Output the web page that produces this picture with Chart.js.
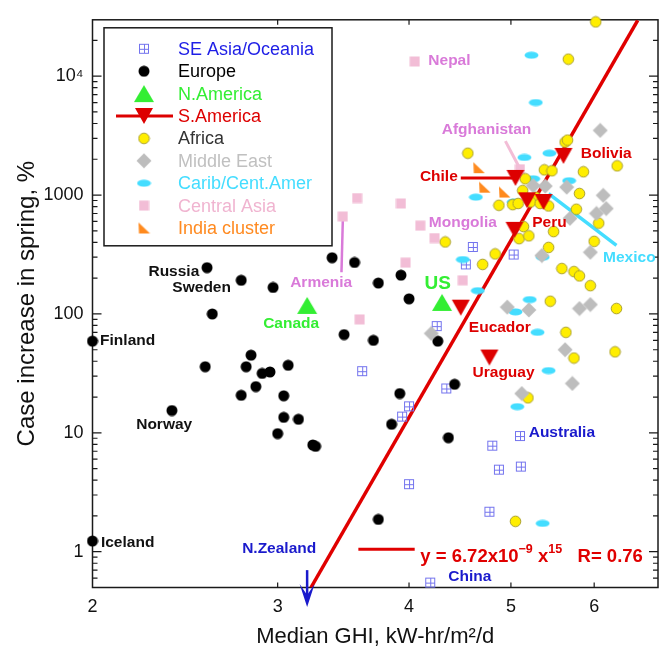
<!DOCTYPE html>
<html>
<head>
<meta charset="utf-8">
<script src="https://cdn.jsdelivr.net/npm/chart.js@4.4.1/dist/chart.umd.min.js"></script>
<style>
  html, body { margin: 0; padding: 0; background: #fff; }
  canvas { display: block; }
</style>
</head>
<body>
<canvas id="ghiChart" width="665" height="651"></canvas>
<script>
const FONT = "'Liberation Sans', Arial, Helvetica, sans-serif";

// axis ticks
const xTicks = [2, 3, 4, 5, 6];
const yTicks = [1, 10, 100, 1000, 10000];

// data: median GHI (kW-hr/m2/d) vs case increase in spring (%)
const seAsiaGhi = [4.60, 5.03, 4.53, 4.25, 4.00, 3.94, 4.34, 5.10, 4.80, 4.87, 5.11, 4.00, 4.77, 4.19, 3.61];
const seAsiaCases = [366, 316, 261, 79, 16.7, 13.7, 23.6, 9.4, 7.8, 4.9, 5.2, 3.7, 2.17, 0.55, 33];

const europeGhi = [2.00, 2.00, 2.38, 2.57, 2.60, 2.77, 2.97, 2.56, 2.80, 2.83, 3.07, 2.90, 2.95, 2.86, 2.77, 3.04, 3.04,
    3.14, 3.00, 3.24, 3.26, 3.74, 3.38, 3.55, 3.93, 4.00, 4.26, 4.42, 3.92, 3.85, 4.36, 3.47, 3.70, 3.74];
const europeCases = [59, 1.23, 15.4, 245, 100, 192, 167, 36, 36, 45, 37, 31.6, 32.5, 24.5, 20.7, 20.5, 13.5,
    13, 9.85, 7.9, 7.7, 1.87, 297, 271, 212, 134, 59, 25.6, 21.4, 11.8, 9.1, 67, 60, 182];

const nAmericaGhi = [3.20, 4.30];
const nAmericaCases = [118, 125];

const sAmericaGhi = [5.05, 5.61, 5.04, 5.18, 5.37, 4.48, 4.77];
const sAmericaCases = [1394, 2134, 510, 904, 875, 113, 43];

const africaGhi = [6.02, 5.67, 5.63, 5.66, 4.55, 6.31, 5.38, 5.47, 5.86, 5.16, 5.13, 5.81, 5.28, 4.87, 5.02, 5.08, 5.22,
    5.33, 5.43, 5.77, 5.14, 5.49, 4.33, 5.09, 5.20, 6.06, 6.00, 5.43, 4.83, 4.70, 5.59, 5.74, 5.81, 5.95, 5.45, 6.30,
    5.64, 6.28, 5.74, 5.19, 5.05];
const africaCases = [28600, 13900, 2790, 2900, 2250, 1760, 1630, 1600, 1570, 1370, 1090, 1030, 960, 820, 830, 850, 875,
    850, 810, 760, 543, 493, 403, 430, 454, 580, 408, 363, 320, 261, 241, 227, 209, 173, 128, 111,
    70, 48, 42.6, 19.7, 1.8];

const midEastGhi = [6.08, 5.25, 5.39, 5.65, 6.12, 6.16, 6.03, 5.69, 5.95, 5.35, 4.96, 5.20, 5.81, 5.95, 4.20, 5.63, 5.72, 5.12];
const midEastCases = [3500, 1200, 1190, 1165, 995, 770, 700, 637, 330, 310, 114, 108, 111, 120, 68.6, 50, 26, 21.4];

const caribGhi = [5.23, 5.28, 5.15, 5.44, 5.25, 5.68, 4.63, 5.03, 4.50, 5.36, 4.65, 5.21, 5.05, 5.30, 5.43, 5.07, 5.36];
const caribCases = [15000, 6000, 2070, 2250, 1370, 1320, 960, 875, 287, 300, 157, 132, 104, 70, 33.4, 16.6, 1.73];

const centralAsiaGhi = [4.05, 5.10, 3.57, 3.93, 3.46, 4.10, 4.23, 3.97, 4.50, 3.59];
const centralAsiaCases = [13300, 1650, 944, 850, 660, 553, 435, 270, 192, 90];

const indiaGhi = [4.66, 4.72, 4.93];
const indiaCases = [1700, 1165, 1060];

// fitted power law, end points as drawn
const fitGhi = [3.227, 6.60];
const fitCases = [0.5, 29400];

// country labels
const labelNames = ['Nepal', 'Afghanistan', 'Chile', 'Bolivia', 'Peru', 'Mongolia', 'Mexico', 'Armenia', 'US', 'Canada',
    'Eucador', 'Uraguay', 'Australia', 'Russia', 'Sweden', 'Finland', 'Norway', 'Iceland', 'N.Zealand', 'China'];
const labelGhi = [4.37, 4.74, 4.27, 6.16, 5.44, 4.50, 6.48, 3.30, 4.26, 3.09, 4.88, 4.92, 5.59, 2.39, 2.54, 2.16, 2.34, 2.16, 3.01, 4.57];
const labelCases = [13600, 3573, 1429, 2218, 582, 582, 299, 184, 178, 83.1, 76.9, 32.0, 9.98, 227, 167, 59.7, 11.6, 1.18, 1.06, 0.615];
const labelGroup = ['cas', 'cas', 'sam', 'sam', 'sam', 'cas', 'car', 'cas', 'nam', 'nam',
    'sam', 'sam', 'sea', 'eur', 'eur', 'eur', 'eur', 'eur', 'sea', 'sea'];

// pointer lines from labels to points
const chileLine = [[4.48, 1394], [5.02, 1394]];
const afghanLine = [[4.94, 2840], [5.09, 1720]];
const mexicoLine = [[5.43, 1030], [6.30, 378]];
const armeniaLine = [[3.46, 605], [3.45, 224]];
const nZealandGhi = 3.20;

const labelColors = {
    cas: '#d97ad9', sam: '#dd0000', car: '#44ddff', nam: '#33ee33', sea: '#1a1acc', eur: '#111111'
};

const makeMarker = (w, h, draw) => {
    const c = document.createElement('canvas');
    c.width = w;
    c.height = h;
    draw(c.getContext('2d'), w, h);
    return c;
};

const markers = {
    seAsia: makeMarker(12, 12, g => {
        g.strokeStyle = '#7474ee';
        g.lineWidth = 1;
        g.strokeRect(1.5, 1.5, 9, 9);
        g.beginPath();
        g.moveTo(6.5, 1.5); g.lineTo(6.5, 10.5);
        g.moveTo(1.5, 6.5); g.lineTo(10.5, 6.5);
        g.stroke();
    }),
    europe: makeMarker(12, 12, g => {
        g.fillStyle = '#000';
        g.beginPath(); g.arc(6, 6, 5.5, 0, Math.PI * 2); g.fill();
    }),
    nAmerica: makeMarker(22, 19, g => {
        g.fillStyle = '#33ee33';
        g.beginPath(); g.moveTo(11, 1); g.lineTo(21, 18); g.lineTo(1, 18); g.closePath(); g.fill();
    }),
    sAmerica: makeMarker(20, 18, g => {
        g.fillStyle = '#dd0000';
        g.beginPath(); g.moveTo(1, 1); g.lineTo(19, 1); g.lineTo(10, 17); g.closePath(); g.fill();
    }),
    africa: makeMarker(13, 13, g => {
        g.fillStyle = '#ffee00';
        g.strokeStyle = '#a89e30';
        g.lineWidth = 1;
        g.beginPath(); g.arc(6.5, 6.5, 5.3, 0, Math.PI * 2); g.fill(); g.stroke();
    }),
    midEast: makeMarker(16, 16, g => {
        g.fillStyle = '#bdbdbd';
        g.beginPath(); g.moveTo(8, 0.5); g.lineTo(15.5, 8); g.lineTo(8, 15.5); g.lineTo(0.5, 8); g.closePath(); g.fill();
    }),
    carib: makeMarker(15, 8, g => {
        g.fillStyle = '#44ddff';
        g.beginPath(); g.ellipse(7.5, 4, 7, 3.5, 0, 0, Math.PI * 2); g.fill();
    }),
    centralAsia: makeMarker(11, 11, g => {
        g.fillStyle = '#f2bdd6';
        g.fillRect(0.5, 0.5, 10, 10);
    }),
    india: makeMarker(13, 13, g => {
        g.fillStyle = '#ff8a1e';
        g.beginPath(); g.moveTo(1, 1); g.lineTo(12.5, 12); g.lineTo(1.5, 12); g.closePath(); g.fill();
    })
};

const toPoints = (xs, ys) => xs.map((x, i) => ({ x: x, y: ys[i] }));

const groups = [
    { name: 'SE Asia/Oceania', color: '#1e1ee6', xs: seAsiaGhi, ys: seAsiaCases, marker: markers.seAsia, order: 9 },
    { name: 'Europe', color: '#000000', xs: europeGhi, ys: europeCases, marker: markers.europe, order: 8 },
    { name: 'N.America', color: '#33ee33', xs: nAmericaGhi, ys: nAmericaCases, marker: markers.nAmerica, order: 2 },
    { name: 'S.America', color: '#dd0000', xs: sAmericaGhi, ys: sAmericaCases, marker: markers.sAmerica, order: 1 },
    { name: 'Africa', color: '#333333', xs: africaGhi, ys: africaCases, marker: markers.africa, order: 4 },
    { name: 'Middle East', color: '#c0c0c0', xs: midEastGhi, ys: midEastCases, marker: markers.midEast, order: 3 },
    { name: 'Carib/Cent.Amer', color: '#44ddff', xs: caribGhi, ys: caribCases, marker: markers.carib, order: 5 },
    { name: 'Central Asia', color: '#f0b4d0', xs: centralAsiaGhi, ys: centralAsiaCases, marker: markers.centralAsia, order: 7 },
    { name: 'India cluster', color: '#ff8a20', xs: indiaGhi, ys: indiaCases, marker: markers.india, order: 6 }
];

const datasets = groups.map(g => ({
    label: g.name,
    data: toPoints(g.xs, g.ys),
    pointStyle: g.marker,
    pointRadius: 6,
    pointHoverRadius: 6,
    clip: false,
    order: g.order
}));

datasets.push({
    label: 'fit',
    data: toPoints(fitGhi, fitCases),
    showLine: true,
    borderColor: '#e00000',
    borderWidth: 3.5,
    pointRadius: 0,
    order: 20
});

// frame with inward ticks on all four sides, plus pointer lines
const framePlugin = {
    id: 'frame',
    beforeDatasetsDraw(chart) {
        const { ctx, chartArea: a, scales: { x, y } } = chart;
        ctx.save();
        ctx.strokeStyle = '#1a1a1a';
        ctx.lineWidth = 1.5;
        ctx.strokeRect(a.left, a.top, a.right - a.left, a.bottom - a.top);

        ctx.lineWidth = 1.2;
        ctx.beginPath();
        xTicks.slice(1).forEach(v => {
            const px = x.getPixelForValue(v);
            ctx.moveTo(px, a.bottom); ctx.lineTo(px, a.bottom - 5);
            ctx.moveTo(px, a.top); ctx.lineTo(px, a.top + 5);
        });
        for (let d = 0.1; d <= 10000; d *= 10) {
            for (let m = 1; m <= 9; m++) {
                const v = d * m;
                if (v < y.min || v > y.max) continue;
                const py = y.getPixelForValue(v);
                const len = m === 1 ? 9 : 5;
                ctx.moveTo(a.left, py); ctx.lineTo(a.left + len, py);
                ctx.moveTo(a.right, py); ctx.lineTo(a.right - len, py);
            }
        }
        ctx.stroke();

        const lines = [
            { path: chileLine, color: '#dd0000', width: 3 },
            { path: afghanLine, color: '#f2bdd6', width: 3 },
            { path: mexicoLine, color: '#44ddff', width: 3.5 },
            { path: armeniaLine, color: '#d97ad9', width: 2.5 }
        ];
        lines.forEach(l => {
            ctx.strokeStyle = l.color;
            ctx.lineWidth = l.width;
            ctx.beginPath();
            l.path.forEach((p, i) => {
                const px = x.getPixelForValue(p[0]);
                const py = y.getPixelForValue(p[1]);
                if (i) ctx.lineTo(px, py); else ctx.moveTo(px, py);
            });
            ctx.stroke();
        });
        ctx.restore();
    }
};

// country labels and the fit equation
const labelPlugin = {
    id: 'labels',
    afterDatasetsDraw(chart) {
        const { ctx, scales: { x, y } } = chart;
        ctx.save();
        ctx.textAlign = 'center';
        ctx.textBaseline = 'middle';
        labelNames.forEach((name, i) => {
            ctx.font = (name === 'US' ? 'bold 19px ' : 'bold 15.5px ') + FONT;
            ctx.fillStyle = labelColors[labelGroup[i]];
            ctx.fillText(name, x.getPixelForValue(labelGhi[i]), y.getPixelForValue(labelCases[i]));
        });

        // equation
        const ex = x.getPixelForValue(4.10);
        const ey = y.getPixelForValue(0.935);
        ctx.strokeStyle = '#e00000';
        ctx.lineWidth = 3;
        ctx.beginPath();
        ctx.moveTo(x.getPixelForValue(3.58), y.getPixelForValue(1.05));
        ctx.lineTo(x.getPixelForValue(4.05), y.getPixelForValue(1.05));
        ctx.stroke();

        ctx.fillStyle = '#e00000';
        ctx.textAlign = 'left';
        ctx.textBaseline = 'alphabetic';
        const big = 'bold 18.5px ' + FONT;
        const small = 'bold 12.5px ' + FONT;
        const base = ey + 7;
        let cx = ex;
        const put = (t, f, dy) => {
            ctx.font = f;
            ctx.fillText(t, cx, base + dy);
            cx += ctx.measureText(t).width;
        };
        put('y = 6.72x10', big, 0);
        put('\u22129', small, -9);
        put(' x', big, 0);
        put('15', small, -9);
        put('   R= 0.76', big, 0);
        ctx.restore();
    }
};

// legend box and the N.Zealand arrow
const legendPlugin = {
    id: 'boxLegend',
    afterDraw(chart) {
        const { ctx, chartArea: a, scales: { x, y } } = chart;
        ctx.save();
        const bx = a.left + 11.5, by = a.top + 8, bw = 228, bh = 218;
        ctx.fillStyle = '#fff';
        ctx.fillRect(bx, by, bw, bh);
        ctx.strokeStyle = '#1a1a1a';
        ctx.lineWidth = 1.5;
        ctx.strokeRect(bx, by, bw, bh);

        ctx.font = '18px ' + FONT;
        ctx.textBaseline = 'middle';
        ctx.textAlign = 'left';
        groups.forEach((g, i) => {
            const ry = by + 21 + i * 22.4;
            const mx = bx + 40;
            if (g.name === 'S.America') {
                ctx.strokeStyle = '#dd0000';
                ctx.lineWidth = 3;
                ctx.beginPath();
                ctx.moveTo(bx + 12, ry); ctx.lineTo(bx + 69, ry);
                ctx.stroke();
            }
            const m = g.marker;
            ctx.drawImage(m, mx - m.width / 2, ry - m.height / 2);
            ctx.fillStyle = g.color;
            ctx.fillText(g.name, bx + 74, ry + 1);
        });

        // N.Zealand arrow, pointing below the axis
        const px = x.getPixelForValue(nZealandGhi);
        const top = y.getPixelForValue(0.70);
        const tip = a.bottom + 19.5;
        ctx.strokeStyle = '#1a1acc';
        ctx.fillStyle = '#1a1acc';
        ctx.lineWidth = 2.5;
        ctx.beginPath();
        ctx.moveTo(px, top); ctx.lineTo(px, tip - 6);
        ctx.stroke();
        ctx.beginPath();
        ctx.moveTo(px, tip);
        ctx.lineTo(px - 7.5, tip - 23);
        ctx.lineTo(px, tip - 12);
        ctx.lineTo(px + 7.5, tip - 23);
        ctx.closePath();
        ctx.fill();
        ctx.restore();
    }
};

const ghiChart = new Chart(document.getElementById('ghiChart').getContext('2d'), {
    type: 'scatter',
    data: { datasets: datasets },
    options: {
        responsive: false,
        animation: false,
        events: [],
        layout: { padding: { top: 12, right: 1.5, left: 0, bottom: 0 } },
        scales: {
            x: {
                type: 'logarithmic',
                min: 2,
                max: 6.9,
                grid: { display: false, drawTicks: false },
                border: { display: false },
                afterBuildTicks: axis => { axis.ticks = xTicks.map(v => ({ value: v })); },
                afterFit: axis => { axis.height = 63.5; },
                ticks: {
                    autoSkip: false,
                    maxRotation: 0,
                    padding: 9,
                    color: '#111',
                    font: { family: FONT, size: 18 },
                    callback: v => String(v)
                },
                title: {
                    display: true,
                    text: 'Median GHI, kW-hr/m\u00b2/d',
                    color: '#111',
                    padding: { top: 0, bottom: 1 },
                    font: { family: FONT, size: 22 }
                }
            },
            y: {
                type: 'logarithmic',
                min: 0.5,
                max: 29800,
                grid: { display: false, drawTicks: false },
                border: { display: false },
                afterBuildTicks: axis => { axis.ticks = yTicks.map(v => ({ value: v })); },
                afterFit: axis => { axis.width = 92.5; },
                ticks: {
                    autoSkip: false,
                    padding: 9,
                    color: '#111',
                    font: { family: FONT, size: 18 },
                    callback: v => (v === 10000 ? '10\u2074' : String(v))
                },
                title: {
                    display: true,
                    text: 'Case increase in spring, %',
                    color: '#111',
                    padding: { top: 13, bottom: 0 },
                    font: { family: FONT, size: 24 }
                }
            }
        },
        plugins: {
            legend: { display: false },
            tooltip: { enabled: false }
        }
    },
    plugins: [framePlugin, labelPlugin, legendPlugin]
});
</script>
</body>
</html>
